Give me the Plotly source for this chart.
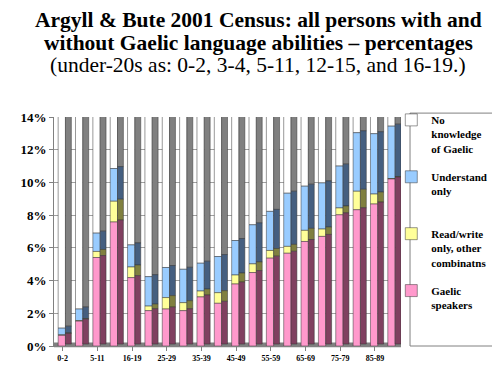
import numpy as np
import plotly.graph_objects as go

categories = ['0-2', '3-4', '5-11', '12-15', '16-19', '20-24', '25-29', '30-34', '35-39',
              '40-44', '45-49', '50-54', '55-59', '60-64', '65-69', '70-74', '75-79',
              '80-84', '85-89', '90+']
gaelic = [0.65, 1.52, 5.41, 7.58, 4.18, 2.16, 2.26, 2.16, 3.00, 2.61, 3.79, 4.49,
          5.37, 5.67, 6.39, 6.70, 8.02, 8.33, 8.68, 10.21]
readwrite = [0.03, 0.03, 0.37, 1.27, 0.65, 0.28, 0.70, 0.49, 0.36, 0.65, 0.55, 0.53,
             0.47, 0.42, 0.68, 0.45, 0.42, 1.13, 0.61, 0.03]
understand = [0.41, 0.71, 1.12, 2.00, 1.35, 1.80, 1.84, 2.04, 1.70, 2.21, 2.11, 2.39,
              2.39, 3.25, 2.70, 2.82, 2.56, 3.58, 3.69, 3.20]
no_knowledge = [round(100 - g - r - u, 2) for g, r, u in zip(gaelic, readwrite, understand)]

# stacking order bottom -> top
series = [
    ('Gaelic<br>speakers<br> ', gaelic, '#ff99cc', '#804060'),
    ('Read/write<br>only, other<br>combinatns', readwrite, '#ffff99', '#808040'),
    ('Understand<br>only<br> ', understand, '#99ccff', '#455f80'),
    ('No<br>knowledge<br>of Gaelic', no_knowledge, '#ffffff', '#808080'),
]

title_lines = ['<b>Argyll & Bute 2001 Census: all persons with and</b>',
               '<b>without Gaelic language abilities – percentages</b>',
               '(under-20s as: 0-2, 3-4, 5-11, 12-15, and 16-19.)']

tick_labels = categories[::2]

# compute stack bases (bottom -> top)
bases = []
acc = np.zeros(len(categories))
for _, vals, _, _ in series:
    bases.append(acc.copy())
    acc = acc + np.array(vals)

fig = go.Figure()
# add top segment first so the legend lists it first
for i in reversed(range(len(series))):
    name, vals, col, dark = series[i]
    v = np.array(vals)
    b = bases[i]
    fig.add_trace(go.Bar(
        x=categories, y=v, base=b, offset=-0.26, width=0.42, name=name,
        marker=dict(color=col, line=dict(color='#333333', width=0.5)),
        legendgroup=f'g{i}'))
    fig.add_trace(go.Bar(
        x=categories, y=v, base=b + 0.12, offset=0.16, width=0.34,
        marker=dict(color=dark, line=dict(color='#333333', width=0.5)),
        showlegend=False, hoverinfo='skip', legendgroup=f'g{i}'))

annotations = []
for yp, txt in zip([1.424, 1.321, 1.227], title_lines):
    annotations.append(dict(
        text=txt, xref='paper', yref='paper', x=(250 - 46) / 347, y=yp,
        xanchor='center', yanchor='middle', showarrow=False,
        font=dict(family='Liberation Serif', size=21.5, color='black')))

fig.update_layout(
    width=500, height=375,
    barmode='overlay',
    paper_bgcolor='white', plot_bgcolor='white',
    margin=dict(l=46, r=107, t=109, b=37, autoexpand=False),
    font=dict(family='Liberation Serif', color='black'),
    annotations=annotations,
    xaxis=dict(
        type='category', categoryorder='array', categoryarray=categories,
        tickmode='array', tickvals=tick_labels, ticktext=tick_labels,
        tickfont=dict(family='Liberation Serif', size=8, color='black', weight='bold'),
        ticks='outside', ticklen=4, tickcolor='#808080',
        showline=True, linecolor='#808080', linewidth=1,
        range=[-0.5, len(categories) - 0.5], showgrid=False),
    yaxis=dict(
        range=[0, 14], dtick=2, tickformat='d', ticksuffix='%',
        tickfont=dict(family='Liberation Serif', size=13, color='black', weight='bold'),
        ticks='outside', ticklen=4, tickcolor='#808080',
        showline=True, linecolor='#808080', linewidth=1,
        showgrid=True, gridcolor='#a0a0a0', gridwidth=1, zeroline=False),
    legend=dict(
        x=0.972, xanchor='left', y=1.047, yanchor='top',
        traceorder='grouped', tracegroupgap=11, valign='top',
        maxheight=340, entrywidth=50, entrywidthmode='pixels',
        font=dict(family='Liberation Serif', size=11, color='black', weight='bold'),
        bgcolor='rgba(0,0,0,0)', borderwidth=0,
        itemwidth=30),
    shapes=[
        dict(type='rect', xref='paper', yref='paper', x0=1.026, x1=1.27, y0=0, y1=1.017,
             line=dict(color='#808080', width=1), fillcolor='rgba(0,0,0,0)'),
        dict(type='rect', xref='paper', yref='paper', x0=0, x1=1, y0=-0.005, y1=0.015,
             line=dict(width=0), fillcolor='#808080', layer='below'),
    ],
)

fig.write_html('out.html')
